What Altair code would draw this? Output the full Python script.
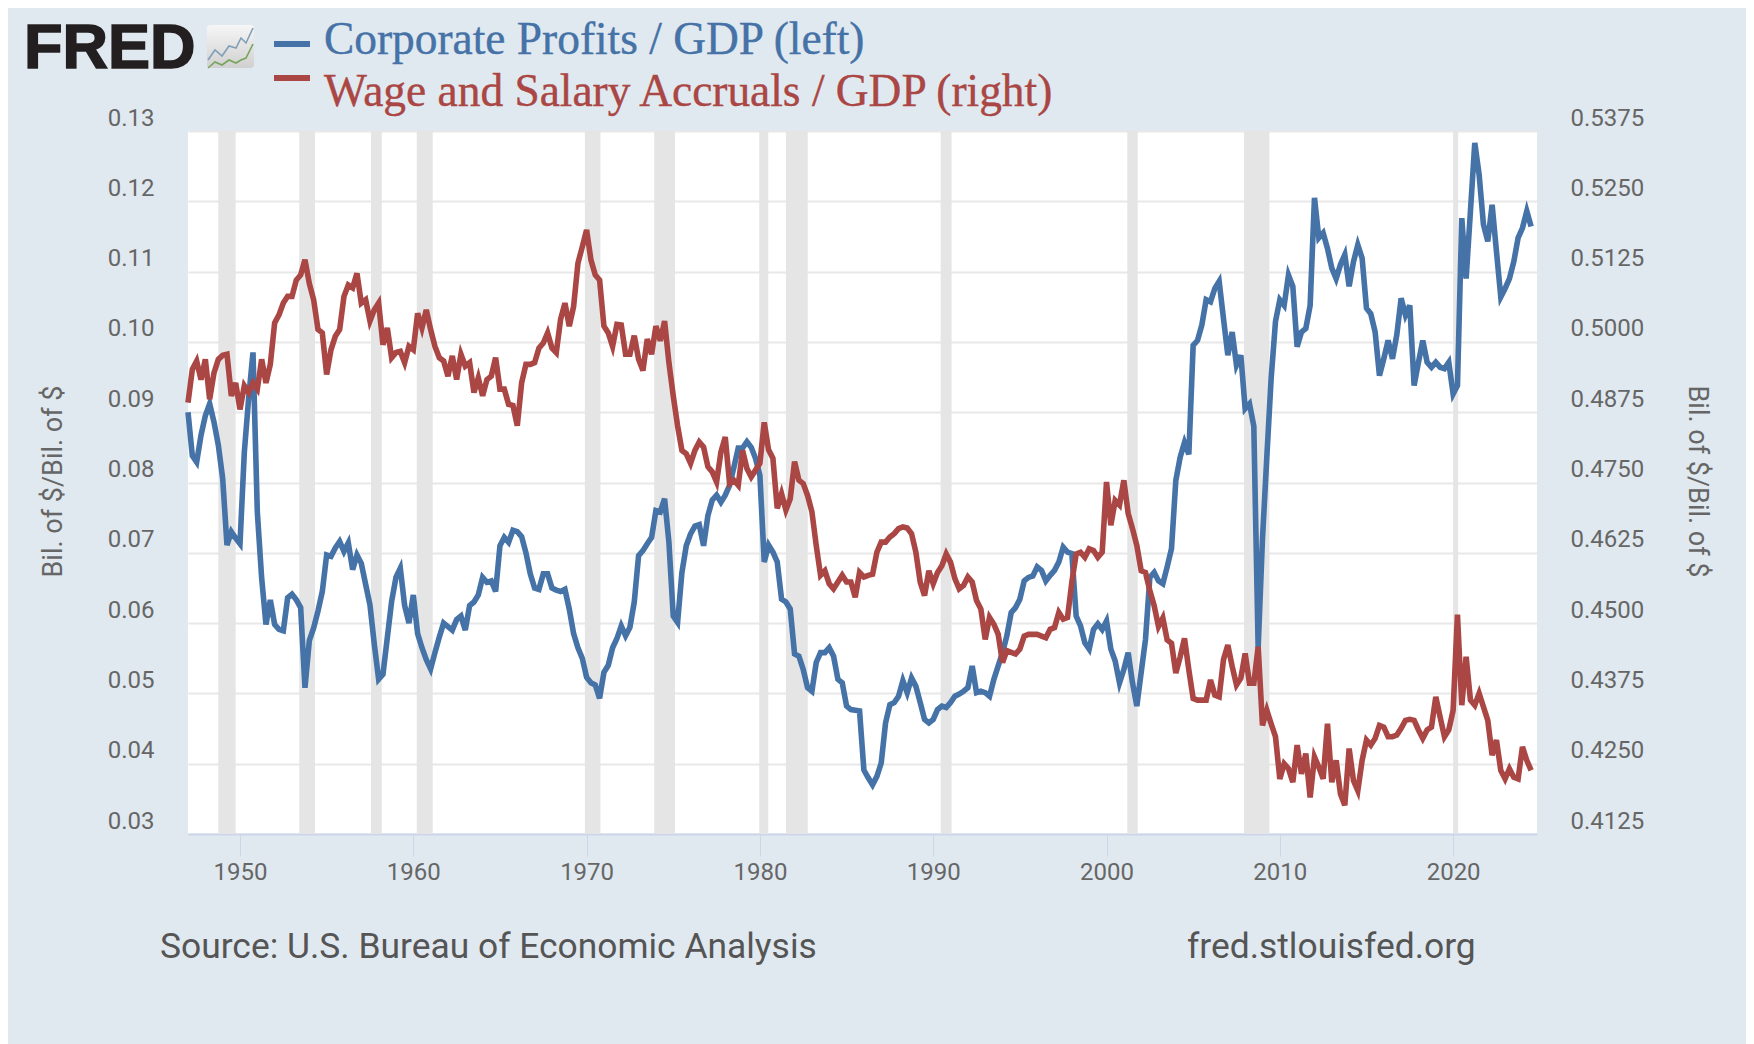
import altair as alt
import pandas as pd

profits = [
 .0900,.0838,.0829,.0867, .0895,.0912,.0886,.0853, .0806,.0711,.0730,.0721, .0713,.0843,.0920,.0985,
 .0758,.0664,.0598,.0633, .0598,.0591,.0589,.0636, .0641,.0633,.0622,.0508, .0575,.0593,.0617,.0645,
 .0697,.0695,.0707,.0716, .0702,.0714,.0676,.0697, .0685,.0655,.0626,.0570, .0520,.0527,.0579,.0631,
 .0665,.0678,.0625,.0600, .0640,.0585,.0565,.0548, .0535,.0558,.0580,.0600, .0595,.0590,.0605,.0610,
 .0590,.0625,.0630,.0640, .0665,.0658,.0660,.0645, .0710,.0722,.0715,.0732, .0730,.0723,.0700,.0670,
 .0650,.0648,.0670,.0670, .0650,.0647,.0645,.0648, .0620,.0585,.0565,.0550, .0523,.0515,.0512,.0493,
 .0530,.0540,.0565,.0578, .0596,.0582,.0594,.0630, .0696,.0703,.0713,.0722, .0760,.0758,.0777,.0715,
 .0610,.0601,.0672,.0710, .0727,.0738,.0740,.0710, .0753,.0775,.0782,.0772, .0782,.0796,.0822,.0849,
 .0849,.0858,.0850,.0834, .0810,.0687,.0711,.0701, .0687,.0634,.0630,.0620, .0556,.0553,.0534,.0508,
 .0503,.0544,.0558,.0558, .0565,.0553,.0520,.0515, .0482,.0477,.0476,.0475, .0391,.0380,.0370,.0382,
 .0401,.0458,.0484,.0487, .0496,.0518,.0501,.0522, .0510,.0487,.0463,.0458, .0463,.0477,.0482,.0480,
 .0487,.0496,.0499,.0503, .0508,.0539,.0501,.0503, .0501,.0496,.0520,.0539, .0558,.0582,.0615,.0622,
 .0634,.0660,.0665,.0667, .0680,.0675,.0660,.0668, .0675,.0687,.0708,.0701, .0699,.0610,.0596,.0572,
 .0563,.0591,.0599,.0591, .0603,.0563,.0546,.0515, .0534,.0558,.0515,.0482, .0530,.0577,.0665,.0672,
 .0660,.0656,.0680,.0706, .0803,.0836,.0857,.0840, .0995,.1002,.1024,.1060, .1057,.1076,.1086,.1033,
 .0981,.1014,.0967,.0981, .0905,.0912,.0880,.0565, .0720,.0836,.0948,.1029, .1060,.1052,.1095,.1079,
 .0993,.1014,.1019,.1052, .1205,.1148,.1155,.1133, .1105,.1090,.1110,.1124, .1079,.1114,.1138,.1119,
 .1048,.1040,.1014,.0952, .0976,.1002,.0976,.1010, .1062,.1038,.1052,.0938, .0971,.1002,.0971,.0964,
 .0971,.0964,.0962,.0971, .0926,.0938,.1176,.1090, .1186,.1283,.1238,.1167, .1143,.1195,.1129,.1064,
 .1076,.1090,.1114,.1148, .1162,.1186,.1164,
]
wages = [
 .4892,.4951,.4966,.4933, .4969,.4898,.4945,.4969, .4976,.4978,.4904,.4927, .4880,.4922,.4910,.4927,
 .4916,.4969,.4927,.4960, .5034,.5048,.5069,.5081, .5081,.5110,.5119,.5146, .5104,.5075,.5022,.5016,
 .4942,.4986,.5010,.5022, .5081,.5101,.5096,.5122, .5069,.5075,.5037,.5057, .5069,.4995,.5025,.4972,
 .4981,.4983,.4963,.4992, .4986,.5051,.5025,.5057, .5022,.4992,.4972,.4966, .4939,.4975,.4933,.4978,
 .4957,.4963,.4910,.4936, .4904,.4933,.4939,.4972, .4916,.4916,.4889,.4887, .4851,.4927,.4960,.4960,
 .4963,.4989,.4998,.5016, .4989,.4981,.5040,.5069, .5028,.5063,.5140,.5169, .5199,.5146,.5119,.5110,
 .5028,.5016,.4992,.5031, .5030,.4978,.4978,.5011, .4969,.4949,.5005,.4978, .5028,.5002,.5037,.4963,
 .4904,.4851,.4807,.4801, .4784,.4807,.4822,.4813, .4778,.4769,.4751,.4804, .4831,.4748,.4754,.4745,
 .4807,.4775,.4760,.4772, .4784,.4857,.4808,.4793, .4704,.4730,.4701,.4721, .4787,.4754,.4748,.4727,
 .4698,.4638,.4585,.4593, .4570,.4561,.4573,.4585, .4573,.4573,.4546,.4590, .4582,.4585,.4587,.4626,
 .4644,.4644,.4653,.4659, .4668,.4671,.4669,.4659, .4626,.4573,.4549,.4593, .4570,.4590,.4602,.4623,
 .4608,.4579,.4561,.4567, .4582,.4573,.4540,.4525, .4471,.4510,.4498,.4480, .4430,.4451,.4448,.4445,
 .4454,.4477,.4480,.4480, .4480,.4477,.4474,.4489, .4492,.4519,.4507,.4510, .4573,.4623,.4626,.4617,
 .4632,.4629,.4617,.4626, .4751,.4674,.4718,.4710, .4754,.4695,.4668,.4638, .4593,.4590,.4558,.4531,
 .4494,.4509,.4470,.4464, .4411,.4440,.4473,.4417, .4366,.4363,.4363,.4363, .4399,.4372,.4369,.4435,
 .4461,.4423,.4390,.4402, .4446,.4393,.4393,.4458, .4318,.4345,.4321,.4298, .4223,.4250,.4241,.4217,
 .4283,.4232,.4268,.4190, .4262,.4244,.4223,.4321, .4217,.4256,.4196,.4176, .4277,.4220,.4202,.4256,
 .4292,.4283,.4295,.4318, .4315,.4298,.4298,.4301, .4313,.4327,.4329,.4327, .4310,.4295,.4310,.4315,
 .4369,.4333,.4298,.4310, .4345,.4515,.4354,.4440, .4363,.4354,.4375,.4351, .4327,.4265,.4292,.4238,
 .4223,.4241,.4226,.4223, .4280,.4256,.4238,
]
rec_start = [1948.75,1953.42,1957.56,1960.2,1969.9,1973.9,1979.96,1981.5,1990.43,2001.2,2007.93,2020.0]
rec_end   = [1949.75,1954.33,1958.18,1961.12,1970.8,1975.1,1980.48,1982.76,1991.06,2001.8,2009.4,2020.29]
left_ticks = [0.03,0.04,0.05,0.06,0.07,0.08,0.09,0.10,0.11,0.12,0.13]
right_ticks = [0.4125,0.4250,0.4375,0.4500,0.4625,0.4750,0.4875,0.5000,0.5125,0.5250,0.5375]
year_ticks = [1950,1960,1970,1980,1990,2000,2010,2020]
quarters = [1947 + i / 4 for i in range(len(profits))]

BG = "#e1e9f0"; BLUE = "#4572a7"; RED = "#aa4643"
TICK = "#666666"; LINE = "#ccd6eb"; FONT = "Roboto"
W, H = 1349, 703
L0, T0 = 188, 131

xscale = alt.Scale(domain=[1947, 2024.84], nice=False, zero=False)
xaxis = alt.Axis(values=year_ticks, format="d", title=None, grid=False, tickSize=22, tickColor=LINE,
                 domainColor=LINE, domainWidth=2, labelFont=FONT, labelFontSize=24, labelColor=TICK,
                 labelPadding=4, labelOverlap=False)

bands = alt.Chart(pd.DataFrame({"a": rec_start, "b": rec_end})).mark_rect(color="#e5e5e5").encode(
    x=alt.X("a:Q", scale=xscale, axis=xaxis), x2="b:Q")

df = pd.DataFrame({"t": quarters, "p": profits, "w": wages})
blue = alt.Chart(df).mark_line(color=BLUE, strokeWidth=5.6).encode(
    x=alt.X("t:Q", scale=xscale, axis=xaxis),
    y=alt.Y("p:Q", scale=alt.Scale(domain=[0.03, 0.13], nice=False, zero=False),
            axis=alt.Axis(orient="left", values=left_ticks, format=".2f", title="Bil. of $/Bil. of $",
                          domain=False, ticks=False, grid=True, gridColor="#e8e8e8", gridWidth=2,
                          labelFont=FONT, labelFontSize=24, labelColor=TICK, labelPadding=34,
                          labelOffset=-13, labelOverlap=False, titleFont=FONT, titleFontSize=27,
                          titleColor=TICK, titleFontWeight="normal", titleX=-121, titleY=350)))
red = alt.Chart(df).mark_line(color=RED, strokeWidth=5.6).encode(
    x=alt.X("t:Q", scale=xscale, axis=xaxis),
    y=alt.Y("w:Q", scale=alt.Scale(domain=[0.4125, 0.5375], nice=False, zero=False),
            axis=alt.Axis(orient="right", values=right_ticks, format=".4f", title="Bil. of $/Bil. of $",
                          domain=False, ticks=False, grid=False,
                          labelFont=FONT, labelFontSize=24, labelColor=TICK, labelPadding=33,
                          labelOffset=-13, labelOverlap=False, titleFont=FONT, titleFontSize=27,
                          titleColor=TICK, titleFontWeight="normal", titleX=145, titleY=350)))

def text(s, x, y, size, color, font, **kw):
    return alt.Chart(pd.DataFrame({"s": [s]})).mark_text(
        fontSize=size, color=color, font=font, align=kw.pop("align", "left"),
        baseline="alphabetic", **kw).encode(
        x=alt.value(x - L0), y=alt.value(y - T0), text="s:N")

def rule(x1, x2, y, color):
    return alt.Chart(pd.DataFrame({"k": [0]})).mark_rule(color=color, strokeWidth=6).encode(
        x=alt.value(x1 - L0), x2=alt.value(x2 - L0), y=alt.value(y - T0))

# FRED icon
icon_x0, icon_x1, icon_y0, icon_y1 = 207, 254, 25, 68
icon_bg = alt.Chart(pd.DataFrame({"k": [0]})).mark_rect(
    color=alt.Gradient(gradient="linear", x1=0, y1=0, x2=0, y2=1,
                       stops=[alt.GradientStop(color="#f6f6f6", offset=0),
                              alt.GradientStop(color="#d0d0d0", offset=1)]),
    cornerRadius=3).encode(
    x=alt.value(icon_x0 - L0), x2=alt.value(icon_x1 - L0),
    y=alt.value(icon_y0 - T0), y2=alt.value(icon_y1 - T0))
ic_bx = [208,215,222,229,236,241,246,253]; ic_by = [60,50,56,46,48,38,43,28]
ic_gx = [208,215,222,229,236,241,246,253]; ic_gy = [68,62,65,60,63,60,58,44]
ic_b = alt.Chart(pd.DataFrame({"x": [v - L0 for v in ic_bx], "y": [v - T0 for v in ic_by]})).mark_line(
    color="#7f9fb8", strokeWidth=1.6, clip=False).encode(
    x=alt.X("x:Q", scale=None), y=alt.Y("y:Q", scale=None), order="x:Q")
ic_g = alt.Chart(pd.DataFrame({"x": [v - L0 for v in ic_gx], "y": [v - T0 for v in ic_gy]})).mark_line(
    color="#76a45a", strokeWidth=1.6, clip=False).encode(
    x=alt.X("x:Q", scale=None), y=alt.Y("y:Q", scale=None), order="x:Q")

chart = alt.layer(
    bands, blue, red,
    text("FRED", 24, 68, 63, "#231f20", "Liberation Sans", fontWeight="bold", stroke="#231f20", strokeWidth=1.6),
    icon_bg, ic_b, ic_g,
    rule(274, 310, 44, BLUE), rule(274, 310, 78, RED),
    text("Corporate Profits / GDP (left)", 324, 54, 45.4, BLUE, "Liberation Serif", stroke=BLUE, strokeWidth=0.4),
    text("Wage and Salary Accruals / GDP (right)", 324, 106, 45.4, RED, "Liberation Serif", stroke=RED, strokeWidth=0.4),
    text("Source: U.S. Bureau of Economic Analysis", 160, 958, 35.4, "#555555", FONT),
    text("fred.stlouisfed.org", 1187, 958, 35.4, "#555555", FONT),
).resolve_scale(y="independent").properties(
    width=W, height=H, background=BG,
    autosize=alt.AutoSizeParams(type="none"),
    padding={"left": 180, "top": 123, "right": 209, "bottom": 210},
).configure_view(fill="white", stroke=None)

chart.save("out.html", embed_options={"renderer": "svg", "actions": False})
